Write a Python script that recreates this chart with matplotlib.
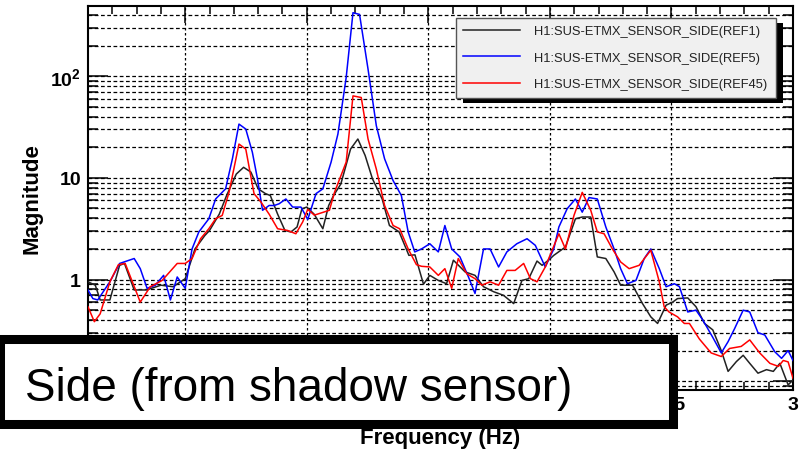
import matplotlib
matplotlib.use("Agg")
import matplotlib.pyplot as plt
from matplotlib.patches import Rectangle
from matplotlib.ticker import FixedLocator, FixedFormatter, MultipleLocator

plt.rcParams['font.family'] = ['Liberation Sans', 'DejaVu Sans']

# --- data (frequency in Hz, magnitude) ---
labels = ['H1:SUS-ETMX_SENSOR_SIDE(REF1)',
          'H1:SUS-ETMX_SENSOR_SIDE(REF5)',
          'H1:SUS-ETMX_SENSOR_SIDE(REF45)']
colors = ['#222222', '#0000ff', '#ff0000']

freq_ref1 = [0.10, 0.13, 0.15, 0.19, 0.23, 0.25, 0.29, 0.34, 0.40, 0.45, 0.50,
             0.54, 0.58, 0.60, 0.64, 0.67, 0.71, 0.74, 0.77, 0.80, 0.83, 0.85,
             0.88, 0.91, 0.935, 0.96, 0.98, 1.00, 1.03, 1.066, 1.09, 1.11, 1.14,
             1.18, 1.21, 1.24, 1.27, 1.31, 1.34, 1.38, 1.42, 1.445, 1.48, 1.506,
             1.541, 1.575, 1.603, 1.651, 1.692, 1.727, 1.768, 1.809, 1.851,
             1.885, 1.913, 1.947, 1.968, 2.002, 2.016, 2.064, 2.105, 2.133,
             2.168, 2.195, 2.23, 2.264, 2.291, 2.34, 2.381, 2.415, 2.443, 2.478,
             2.505, 2.525, 2.567, 2.601, 2.636, 2.67, 2.705, 2.733, 2.767, 2.795,
             2.822, 2.856, 2.891, 2.919, 2.946, 2.98, 3.0]
mag_ref1 = [0.95, 0.88, 0.63, 0.63, 1.38, 1.44, 0.79, 0.79, 0.88, 0.85, 1.02,
            2.0, 2.7, 3.04, 4.4, 6.7, 10.9, 12.7, 11.4, 7.8, 7.0, 6.7,
            4.4, 3.04, 2.94, 3.29, 4.97, 5.16, 4.4, 3.16, 5.35, 6.7, 8.7,
            19.2, 24.1, 16.6, 9.8, 6.2, 3.4, 2.94, 1.73, 1.75, 0.9, 1.10,
            0.98, 0.91, 1.55, 1.19, 1.10, 0.85, 0.76, 0.70, 0.58,
            0.98, 1.02, 1.52, 1.38, 1.61, 1.73, 2.09, 3.96, 4.12,
            4.12, 1.67, 1.61, 1.19, 0.88, 0.88, 0.58, 0.43, 0.37, 0.56,
            0.60, 0.65, 0.66, 0.54, 0.37, 0.32, 0.20, 0.125, 0.156, 0.18,
            0.15, 0.12, 0.13, 0.125, 0.15, 0.092, 0.103]

freq_ref5 = [0.10, 0.12, 0.14, 0.19, 0.23, 0.29, 0.315, 0.343, 0.377, 0.411,
             0.439, 0.467, 0.50, 0.528, 0.556, 0.576, 0.597, 0.625, 0.666,
             0.694, 0.721, 0.749, 0.776, 0.797, 0.818, 0.845, 0.866, 0.886,
             0.914, 0.942, 0.976, 1.004, 1.038, 1.066, 1.10, 1.128, 1.162,
             1.19, 1.217, 1.252, 1.286, 1.32, 1.355, 1.389, 1.417, 1.444,
             1.472, 1.506, 1.541, 1.568, 1.596, 1.63, 1.665, 1.692, 1.727,
             1.754, 1.789, 1.823, 1.864, 1.906, 1.94, 1.981, 2.016, 2.037,
             2.071, 2.105, 2.133, 2.161, 2.195, 2.23, 2.264, 2.291, 2.319,
             2.354, 2.388, 2.415, 2.45, 2.478, 2.512, 2.533, 2.567, 2.601,
             2.629, 2.67, 2.705, 2.733, 2.76, 2.795, 2.822, 2.856, 2.884,
             2.925, 2.953, 2.98, 3.0]
mag_ref5 = [0.79, 0.65, 0.63, 0.95, 1.44, 1.61, 1.28, 0.82, 0.88, 1.10,
            0.63, 1.06, 0.82, 2.0, 2.94, 3.4, 3.96, 6.2, 7.8,
            15.4, 33.8, 30.2, 17.9, 9.8, 4.8, 5.35, 5.35, 5.56,
            6.2, 5.16, 5.16, 3.9, 7.0, 7.8, 14.3, 27.0, 97.0,
            421.0, 405.0, 117.0, 32.6, 15.4, 9.4, 6.7, 2.94, 1.87,
            2.0, 2.25, 1.87, 3.4, 2.0, 1.67, 1.06, 0.73, 2.0,
            2.0, 1.33, 1.87, 2.25, 2.52, 2.17, 1.33, 2.0, 3.29,
            4.97, 6.2, 4.6, 6.4, 6.2, 3.29, 2.0, 1.28, 0.91,
            0.98, 1.61, 2.0, 1.28, 0.85, 0.91, 0.85, 0.48, 0.50,
            0.40, 0.27, 0.19, 0.245, 0.33, 0.50, 0.48, 0.30, 0.285,
            0.195, 0.168, 0.20, 0.16]

freq_ref45 = [0.10, 0.126, 0.15, 0.19, 0.225, 0.253, 0.315, 0.356, 0.405,
              0.467, 0.50, 0.528, 0.563, 0.597, 0.625, 0.652, 0.68, 0.721,
              0.749, 0.783, 0.811, 0.845, 0.88, 0.921, 0.955, 0.983, 1.004,
              1.031, 1.093, 1.114, 1.162, 1.19, 1.224, 1.252, 1.286, 1.32,
              1.355, 1.382, 1.417, 1.451, 1.472, 1.506, 1.541, 1.568, 1.596,
              1.623, 1.658, 1.692, 1.72, 1.754, 1.789, 1.823, 1.857, 1.892,
              1.92, 1.947, 1.981, 2.009, 2.037, 2.064, 2.099, 2.133, 2.168,
              2.195, 2.223, 2.257, 2.291, 2.326, 2.367, 2.415, 2.45, 2.47,
              2.49, 2.525, 2.553, 2.574, 2.615, 2.663, 2.705, 2.739, 2.787,
              2.822, 2.863, 2.905, 2.94, 2.96, 2.98, 3.0]
mag_ref45 = [0.54, 0.385, 0.46, 0.95, 1.40, 1.44, 0.60, 0.85, 0.98,
             1.44, 1.44, 1.61, 2.52, 3.16, 3.96, 4.27, 7.2, 21.5,
             19.2, 7.0, 5.8, 4.4, 3.16, 3.04, 2.82, 3.68, 4.9,
             4.3, 4.8, 7.2, 14.3, 64.0, 61.7, 24.1, 12.2, 5.35,
             3.4, 3.16, 2.0, 1.4, 1.35, 1.33, 1.10, 1.28, 0.82,
             1.61, 1.14, 1.02, 0.88, 0.95, 0.88, 1.23, 1.23, 1.44,
             1.02, 0.95, 1.33, 1.94, 2.82, 2.0, 4.27, 7.2, 4.8,
             2.94, 2.82, 2.0, 1.49, 1.28, 1.38, 1.94, 0.95, 0.54,
             0.48, 0.43, 0.37, 0.37, 0.26, 0.19, 0.175, 0.21, 0.22,
             0.255, 0.19, 0.15, 0.14, 0.16, 0.155, 0.107]

# tick labels hidden by the caption box are left blank
x_major = [0.5, 1.0, 1.5, 2.0, 2.5, 3.0]
x_major_labels = ['', '', '', '', '2.5', '3']
y_major = [0.1, 1, 10, 100]
y_major_labels = ['', '1', '10', r'$\mathregular{10^{2}}$']
y_minor = [k * 10.0 ** e for e in (-2, -1, 0, 1, 2) for k in range(2, 10)]

overlay_text = 'Side (from shadow sensor)'

fig = plt.figure(figsize=(8.05, 4.52), dpi=100)
ax = fig.add_axes([88 / 805, 61 / 452, 705 / 805, 384 / 452])

# Curves
for f, m, c, lab in zip([freq_ref1, freq_ref5, freq_ref45],
                        [mag_ref1, mag_ref5, mag_ref45], colors, labels):
    ax.plot(f, m, color=c, linewidth=1.1, label=lab, zorder=3)

ax.set_yscale('log')
ax.set_xlim(0.1, 3.0)
ax.set_ylim(0.082, 490)

ax.xaxis.set_major_locator(FixedLocator(x_major))
ax.xaxis.set_major_formatter(FixedFormatter(x_major_labels))
ax.xaxis.set_minor_locator(MultipleLocator(0.1))
ax.yaxis.set_major_locator(FixedLocator(y_major))
ax.yaxis.set_major_formatter(FixedFormatter(y_major_labels))
ax.yaxis.set_minor_locator(FixedLocator(y_minor))
ax.yaxis.set_minor_formatter(FixedFormatter([]))

ax.tick_params(which='both', direction='in', top=True, right=True, width=1.1,
               labelsize=14, colors='black')
ax.tick_params(axis='y', which='major', length=14.5, pad=5)
ax.tick_params(axis='y', which='minor', length=7.5)
ax.tick_params(axis='x', which='major', length=12, pad=4.5)
ax.tick_params(axis='x', which='minor', length=6)
for lbl in ax.get_xticklabels() + ax.get_yticklabels():
    lbl.set_fontweight('bold')

ax.grid(True, which='major', axis='x', color='black', linestyle=(0, (2, 2)), linewidth=0.9)
ax.grid(True, which='both', axis='y', color='black', linestyle=(0, (3, 2)), linewidth=0.9)
ax.set_axisbelow(True)
for s in ax.spines.values():
    s.set_linewidth(1.5)

ax.set_xlabel('Frequency (Hz)', fontsize=16, fontweight='bold')
ax.xaxis.set_label_coords(0.5, -0.097)
ax.set_ylabel('Magnitude', fontsize=16, fontweight='bold')
ax.yaxis.set_label_coords(-0.065, 0.5)

leg = ax.legend(loc='upper left', bbox_to_anchor=(0.522, 0.969, 0.454, 0.0),
                mode='expand', fontsize=9.3, handlelength=4.4, handletextpad=1.1,
                labelspacing=1.13, borderpad=0.56, fancybox=False, framealpha=1,
                facecolor='#f0f0f0', edgecolor='#555555', borderaxespad=0)
leg.get_frame().set_linewidth(1.0)
for t in leg.get_texts():
    t.set_color('#222222')
leg.set_zorder(6)

# Offset shadow behind the legend
fig.canvas.draw()
bb = leg.get_window_extent()
(x0, y0), (x1, y1) = ax.transAxes.inverted().transform([[bb.x0 + 7, bb.y0 - 5],
                                                         [bb.x1 + 7, bb.y1 - 5]])
ax.add_patch(Rectangle((x0, y0), x1 - x0, y1 - y0, transform=ax.transAxes,
                       facecolor='black', edgecolor='none', zorder=5.5, clip_on=False))

# Caption box laid over the lower left of the figure
fig.add_artist(Rectangle((0.0, 27.5 / 452), 672.5 / 805, 85 / 452,
                         transform=fig.transFigure, facecolor='white',
                         edgecolor='black', linewidth=6.5, zorder=20))
fig.text(25 / 805, 51 / 452, overlay_text, fontsize=33, color='black',
         ha='left', va='baseline', zorder=21)

fig.savefig('out.png', dpi=100)
